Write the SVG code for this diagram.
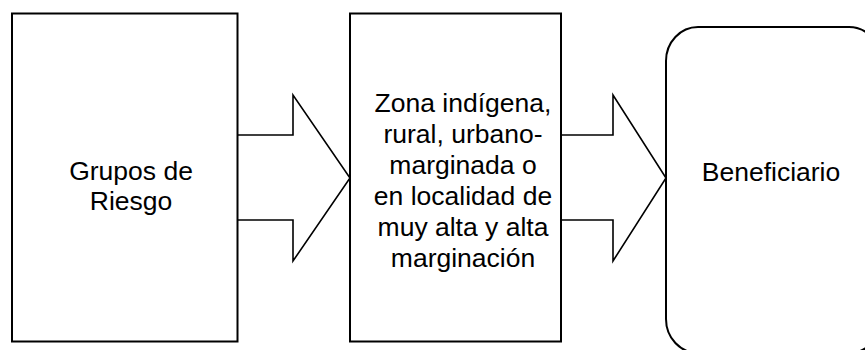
<svg xmlns="http://www.w3.org/2000/svg" width="865" height="350" viewBox="0 0 865 350">
<style>
.shape{fill:#fff;stroke:#000;stroke-width:2}
.conn{fill:#fff;stroke:#000;stroke-width:1.6}
text{font-family:"Liberation Sans",Arial,sans-serif;font-size:26.5px;fill:#000;text-anchor:middle}
</style>
<rect width="865" height="350" fill="#fff"/>
<g id="connectors">
<polygon class="conn" points="237,135 293,135 293,95 350,178 293,261 293,220 237,220"/>
<polygon class="conn" points="561,135 613,135 613,95 666,178 613,261 613,220 561,220"/>
</g>
<g id="node1">
<rect class="shape" x="12" y="13.5" width="225.5" height="328"/>
<text x="131" y="180">Grupos de</text>
<text x="131" y="210">Riesgo</text>
</g>
<g id="node2">
<rect class="shape" x="350" y="13.5" width="211" height="328"/>
<text x="463" y="111.5">Zona indígena,</text>
<text x="463" y="142.5">rural, urbano-</text>
<text x="463" y="173.5">marginada o</text>
<text x="463" y="204.5">en localidad de</text>
<text x="463" y="235.5">muy alta y alta</text>
<text x="463" y="266.5">marginación</text>
</g>
<g id="node3">
<rect class="shape" x="666" y="27" width="215" height="326" rx="32" ry="34"/>
<text x="771" y="181">Beneficiario</text>
</g>
</svg>
